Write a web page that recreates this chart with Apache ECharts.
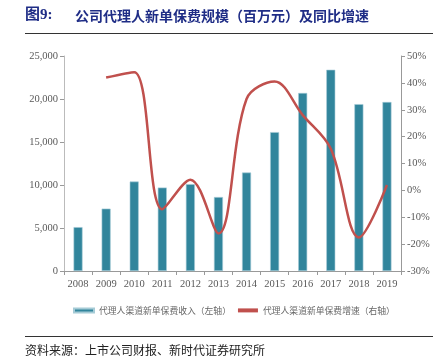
<!DOCTYPE html>
<html><head><meta charset="utf-8">
<script src="https://cdn.jsdelivr.net/npm/echarts@6/dist/echarts.min.js"></script>
<style>html,body{margin:0;padding:0;background:#fff}#c{width:440px;height:362px}</style>
</head><body><div id="c"></div>
<script>
var categories = ['2008','2009','2010','2011','2012','2013','2014','2015','2016','2017','2018','2019'];
var premium = [5100, 7250, 10400, 9700, 10100, 8600, 11450, 16150, 20700, 23400, 19400, 19650];
var growth = [null, 42, 44, -7, 4, -16, 34, 40.5, 28, 15.5, -17.5, 2];
var leftTicks = [0, 5000, 10000, 15000, 20000, 25000];
var rightTicks = [-30, -20, -10, 0, 10, 20, 30, 40, 50];
var nameBar = '代理人渠道新单保费收入（左轴）';
var nameLine = '代理人渠道新单保费增速（右轴）';

var chart = echarts.init(document.getElementById('c'), null, {renderer:'canvas'});
var serif = '"Liberation Serif","Times New Roman",serif';
var cjk = '"Noto Sans CJK SC",sans-serif';
chart.setOption({
  animation:false,
  grid:{left:64,right:39,top:56,bottom:91,containLabel:false},
  legend:{
    top:306, left:73, width:400, itemGap:7, itemWidth:20, itemHeight:4, padding:0,
    textStyle:{fontFamily:cjk,fontSize:8.8,color:'#666'},
    data:[{name:nameBar,icon:'rect'},{name:nameLine,icon:'rect',itemStyle:{color:'#C0504D'}}]
  },
  xAxis:{type:'category',data:categories,
    axisLine:{lineStyle:{color:'#999'}},
    axisTick:{show:true,alignWithLabel:false,lineStyle:{color:'#999'},length:4},
    axisLabel:{fontFamily:serif,fontSize:10.5,color:'#595959',margin:8}},
  yAxis:[
    {type:'value',min:leftTicks[0],max:leftTicks[leftTicks.length-1],interval:5000,
     axisLine:{show:true,lineStyle:{color:'#bbb'}},
     axisTick:{show:true,length:4,lineStyle:{color:'#999'}},
     splitLine:{show:false},
     axisLabel:{fontFamily:serif,fontSize:10.5,color:'#595959',margin:6,
       formatter:function(v){return v.toLocaleString('en-US');}}},
    {type:'value',min:rightTicks[0],max:rightTicks[rightTicks.length-1],interval:10,
     position:'right',
     axisLine:{show:true,lineStyle:{color:'#999'}},
     axisTick:{show:true,length:4,lineStyle:{color:'#999'}},
     splitLine:{show:false},
     axisLabel:{fontFamily:serif,fontSize:10.5,color:'#595959',margin:6,formatter:'{value}%'}}
  ],
  series:[
    {name:nameBar,type:'bar',data:premium,barWidth:9,yAxisIndex:0,
     itemStyle:{color:'#31859C',borderColor:'#A6CBD6',borderWidth:0.6}},
    {name:nameLine,type:'line',data:growth,yAxisIndex:1,smooth:0.35,symbol:'none',
     lineStyle:{color:'#C0504D',width:2.5},itemStyle:{color:'#C0504D'}}
  ],
  graphic:[
    {type:'text',left:25,top:8,style:{text:'图9:',font:"bold 15px 'Liberation Serif','Noto Sans CJK SC'",fill:'#1F2D86'}},
    {type:'text',left:75,top:9,style:{text:'公司代理人新单保费规模（百万元）及同比增速',font:'bold 14px "Noto Sans CJK SC"',fill:'#1F2D86'}},
    {type:'line',shape:{x1:25,y1:33.5,x2:433,y2:33.5},style:{stroke:'#333',lineWidth:1}},
    {type:'line',shape:{x1:25,y1:336.5,x2:433,y2:336.5},style:{stroke:'#333',lineWidth:1}},
    {type:'text',left:25,top:344,style:{text:'资料来源：上市公司财报、新时代证券研究所',font:'12px "Noto Sans CJK SC"',fill:'#222'}}
  ]
});
</script></body></html>
